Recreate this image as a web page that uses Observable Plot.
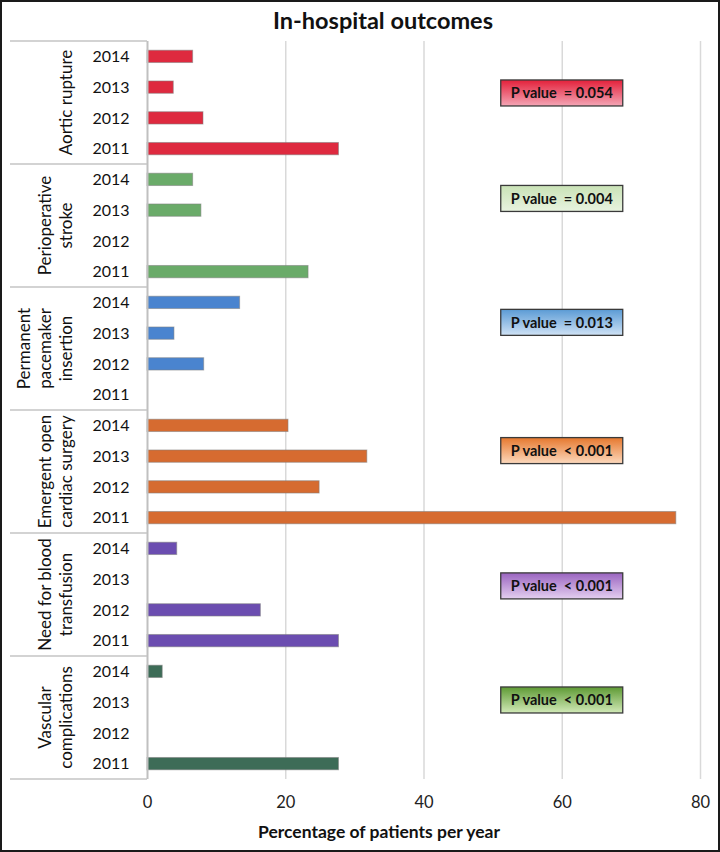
<!DOCTYPE html>
<html>
<head>
<meta charset="utf-8">
<script src="https://cdn.jsdelivr.net/npm/d3@7"></script>
<script src="https://cdn.jsdelivr.net/npm/@observablehq/plot@0.6"></script>
<style>
  html, body { margin: 0; padding: 0; background: #fff; }
  #wrap { position: relative; width: 720px; height: 852px; overflow: hidden; }
  #chart { position: absolute; left: 0; top: 0; }
  .lbl { position: absolute; text-align: center; font-family: Lato, "Open Sans", sans-serif; font-weight: 700; color: #111; white-space: nowrap; }
  #frame { position: absolute; left: 0; top: 0; width: 720px; height: 852px; box-sizing: border-box; border: 2px solid #1a1a1a; pointer-events: none; }
</style>
</head>
<body>
<div id="wrap">
  <div id="chart"></div>
  <div class="lbl" id="title" style="left:233px;width:300px;top:6px;font-size:23.5px;line-height:28px;">In-hospital outcomes</div>
  <div class="lbl" id="xlabel" style="left:229px;width:300px;top:821px;font-size:17.5px;line-height:22px;">Percentage of patients per year</div>
  <div id="frame"></div>
</div>
<script>
// ---- data ----
const groups = ["Aortic rupture", "Perioperative stroke", "Permanent pacemaker insertion",
  "Emergent open cardiac surgery", "Need for blood transfusion", "Vascular complications"];
const groupLabelLines = [["Aortic rupture"], ["Perioperative", "stroke"], ["Permanent", "pacemaker", "insertion"],
  ["Emergent open", "cardiac surgery"], ["Need for blood", "transfusion"], ["Vascular", "complications"]];
const years = ["2014", "2013", "2012", "2011"];
const aorticRupture = [6.6, 3.8, 8.1, 27.7];
const perioperativeStroke = [6.6, 7.8, 0, 23.3];
const pacemakerInsertion = [13.4, 3.9, 8.2, 0];
const emergentSurgery = [20.4, 31.8, 24.9, 76.5];
const bloodTransfusion = [4.3, 0, 16.4, 27.7];
const vascularComplications = [2.2, 0, 0, 27.7];
const pValueLabels = ["P value  = 0.054", "P value  = 0.004", "P value  = 0.013",
  "P value  < 0.001", "P value  < 0.001", "P value  < 0.001"];
const xTicks = [0, 20, 40, 60, 80];

// ---- styles / layout ----
const barColors = ["#de2a3f", "#6aab69", "#4a84cf", "#d66b30", "#6b4db0", "#3d6c57"];
const boxGradients = [["#e4203a", "#f4a6b6"], ["#c9e2b6", "#e8f3df"], ["#5b9bd5", "#cfe2f5"],
  ["#e6782e", "#fcd9bd"], ["#9a64c0", "#e4cff0"], ["#5e9a34", "#d2eab8"]];
const boxRowOffsets = [1.69, 1.12, 1.15, 1.32, 1.72, 1.43]; // in row steps from group top
const boxCenterX = 60, boxW = 122, boxH = 26;

const seriesValues = [aorticRupture, perioperativeStroke, pacemakerInsertion, emergentSurgery, bloodTransfusion, vascularComplications];
const rowKeys = groups.flatMap(g => years.map(yr => g + "|" + yr));
const barData = groups.flatMap((g, gi) => years.map((yr, yi) => ({group: g, year: yr, key: g + "|" + yr, value: seriesValues[gi][yi]})));

function tableMark(index, scales, values, dimensions) {
  const y = scales.y, x = scales.x;
  const step = typeof y.step === "function" ? y.step() : (y(rowKeys[1]) - y(rowKeys[0]));
  const bw = typeof y.bandwidth === "function" ? y.bandwidth() : 0;
  const center = k => y(k) + bw / 2;
  const left = 10, right = dimensions.marginLeft;
  const g = d3.create("svg:g");
  const defs = g.append("defs");
  boxGradients.forEach((c, i) => {
    const lg = defs.append("linearGradient").attr("id", "pg" + i).attr("x1", 0).attr("x2", 0).attr("y1", 0).attr("y2", 1);
    lg.append("stop").attr("offset", "0%").attr("stop-color", c[0]);
    lg.append("stop").attr("offset", "100%").attr("stop-color", c[1]);
  });
  groups.forEach((grp, gi) => {
    const top = center(grp + "|" + years[0]) - step / 2;
    const bottom = center(grp + "|" + years[years.length - 1]) + step / 2;
    g.append("line").attr("x1", left).attr("x2", right).attr("y1", top).attr("y2", top)
      .attr("stroke", "#c4c4c4").attr("stroke-width", 1.6);
    if (gi === groups.length - 1) {
      g.append("line").attr("x1", left).attr("x2", right).attr("y1", bottom).attr("y2", bottom)
        .attr("stroke", "#c4c4c4").attr("stroke-width", 1.6);
    }
    years.forEach(yr => {
      g.append("text").attr("x", 111).attr("y", center(grp + "|" + yr)).attr("dy", "0.36em")
        .attr("text-anchor", "middle").attr("font-size", 16).attr("fill", "#111").text(yr);
    });
    const lines = groupLabelLines[gi];
    const mid = (top + bottom) / 2;
    lines.forEach((ln, li) => {
      const lx = 66 - 21 * (lines.length - 1 - li);
      g.append("text").attr("transform", `translate(${lx},${mid}) rotate(-90)`).attr("dy", "0.36em")
        .attr("text-anchor", "middle").attr("font-size", 17).attr("fill", "#111").text(ln);
    });
    // P value box
    const cy = top + boxRowOffsets[gi] * step;
    const cx = x(boxCenterX);
    g.append("rect").attr("x", cx - boxW / 2).attr("y", cy - boxH / 2).attr("width", boxW).attr("height", boxH)
      .attr("fill", `url(#pg${gi})`).attr("stroke", "#3a3a3a").attr("stroke-width", 1.3);
    g.append("text").attr("x", cx).attr("y", cy).attr("dy", "0.36em").attr("text-anchor", "middle")
      .attr("font-size", 14.5).attr("font-weight", 700).attr("fill", "#111").style("white-space", "pre").text(pValueLabels[gi]);
  });
  return g.node();
}

const chart = Plot.plot({
  width: 720,
  height: 852,
  marginTop: 41,
  marginBottom: 73,
  marginLeft: 147,
  marginRight: 20,
  style: {fontFamily: "Lato, 'Open Sans', sans-serif", fontSize: "16.5px", color: "#222", background: "transparent"},
  x: {domain: [0, 80], ticks: xTicks, tickSize: 0, tickPadding: 17, label: null},
  y: {domain: rowKeys, paddingInner: 0.6, paddingOuter: 0.3, round: false, axis: null},
  color: {domain: groups, range: barColors},
  marks: [
    Plot.ruleX(xTicks.filter(d => d > 0), {stroke: "#d9d9d9", strokeWidth: 1.5}),
    Plot.barX(barData.filter(d => d.value > 0), {x: "value", y: "key", fill: "group", stroke: "#808080", strokeOpacity: 0.55, strokeWidth: 1}),
    Plot.ruleX([0], {stroke: "#c0c0c0", strokeWidth: 2}),
    tableMark
  ]
});
document.getElementById("chart").appendChild(chart);
</script>
</body>
</html>
